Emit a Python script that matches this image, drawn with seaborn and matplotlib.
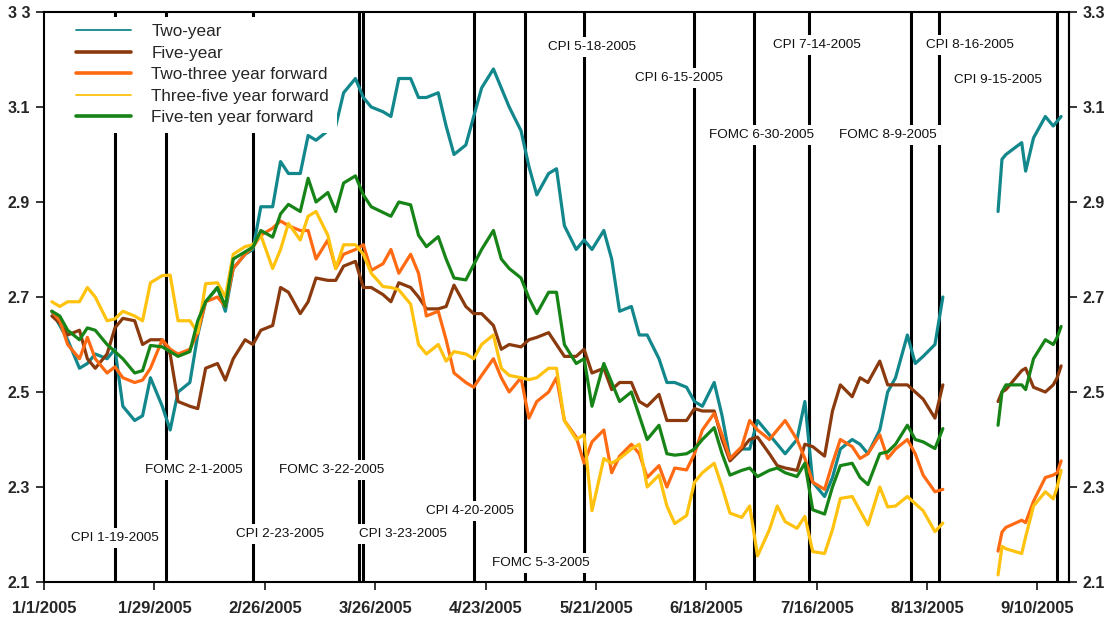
import seaborn as sns
import matplotlib.pyplot as plt
import matplotlib.dates as mdates
import pandas as pd

# observations: Mon/Wed/Fri through mid August, then the September block after the gap
dates_pre = pd.bdate_range("2005-01-03", "2005-08-17", freq="C", weekmask="Mon Wed Fri")
dates_post = pd.to_datetime(["2005-08-31", "2005-09-01", "2005-09-02", "2005-09-06", "2005-09-07",
                             "2005-09-09", "2005-09-12", "2005-09-14", "2005-09-15", "2005-09-16"])

two_year_pre = [2.67, 2.64, 2.61, 2.55, 2.56, 2.58, 2.57, 2.59, 2.47, 2.44, 2.45, 2.53,
                2.47, 2.42, 2.50, 2.52, 2.62, 2.69, 2.72, 2.67, 2.76, 2.79, 2.80, 2.89,
                2.89, 2.985, 2.96, 2.96, 3.04, 3.03, 3.05, 3.06, 3.13, 3.16, 3.12, 3.10,
                3.09, 3.08, 3.16, 3.16, 3.12, 3.12, 3.13, 3.06, 3.00, 3.02, 3.08, 3.14,
                3.18, 3.14, 3.10, 3.05, 2.975, 2.915, 2.96, 2.97, 2.85, 2.80, 2.82, 2.80,
                2.84, 2.78, 2.67, 2.68, 2.62, 2.62, 2.57, 2.52, 2.52, 2.51, 2.48, 2.47,
                2.52, 2.45, 2.36, 2.38, 2.38, 2.44, 2.41, 2.39, 2.37, 2.40, 2.48, 2.31,
                2.28, 2.32, 2.38, 2.40, 2.39, 2.37, 2.42, 2.50, 2.53, 2.62, 2.56, 2.575,
                2.60, 2.70]
two_year_post = [2.88, 2.99, 3.00, 3.025, 2.965, 3.035, 3.08, 3.06, 3.07, 3.08]

five_year_pre = [2.66, 2.645, 2.62, 2.63, 2.57, 2.55, 2.58, 2.635, 2.655, 2.65, 2.60, 2.61,
                 2.61, 2.58, 2.48, 2.47, 2.465, 2.55, 2.56, 2.525, 2.57, 2.61, 2.60, 2.63,
                 2.64, 2.72, 2.71, 2.665, 2.69, 2.74, 2.735, 2.735, 2.765, 2.775, 2.72, 2.72,
                 2.705, 2.69, 2.73, 2.72, 2.70, 2.675, 2.675, 2.68, 2.725, 2.68, 2.665, 2.665,
                 2.64, 2.59, 2.60, 2.595, 2.61, 2.615, 2.625, 2.60, 2.575, 2.575, 2.59, 2.54,
                 2.55, 2.505, 2.52, 2.52, 2.48, 2.47, 2.495, 2.44, 2.44, 2.44, 2.465, 2.46,
                 2.46, 2.40, 2.355, 2.38, 2.40, 2.405, 2.37, 2.345, 2.34, 2.335, 2.39, 2.385,
                 2.365, 2.46, 2.515, 2.49, 2.53, 2.52, 2.565, 2.515, 2.515, 2.515, 2.50, 2.485,
                 2.445, 2.515]
five_year_post = [2.48, 2.50, 2.505, 2.545, 2.55, 2.51, 2.50, 2.515, 2.53, 2.555]

two_three_pre = [2.67, 2.65, 2.60, 2.57, 2.615, 2.57, 2.54, 2.553, 2.53, 2.52, 2.525, 2.55,
                 2.61, 2.59, 2.58, 2.59, 2.625, 2.69, 2.70, 2.68, 2.76, 2.79, 2.805, 2.83,
                 2.845, 2.86, 2.85, 2.84, 2.84, 2.78, 2.82, 2.76, 2.79, 2.80, 2.81, 2.756,
                 2.77, 2.80, 2.75, 2.79, 2.75, 2.66, 2.67, 2.61, 2.54, 2.52, 2.51, 2.535,
                 2.57, 2.53, 2.50, 2.53, 2.445, 2.48, 2.50, 2.53, 2.44, 2.405, 2.35, 2.395,
                 2.42, 2.33, 2.365, 2.39, 2.37, 2.32, 2.345, 2.30, 2.34, 2.336, 2.37, 2.42,
                 2.455, 2.41, 2.36, 2.385, 2.44, 2.42, 2.40, 2.42, 2.44, 2.40, 2.36, 2.31,
                 2.295, 2.35, 2.40, 2.385, 2.36, 2.37, 2.41, 2.36, 2.38, 2.40, 2.37, 2.325,
                 2.29, 2.295]
two_three_post = [2.165, 2.205, 2.215, 2.23, 2.225, 2.27, 2.32, 2.325, 2.33, 2.355]

three_five_pre = [2.69, 2.68, 2.69, 2.69, 2.72, 2.70, 2.65, 2.654, 2.67, 2.66, 2.65, 2.73,
                  2.745, 2.746, 2.65, 2.65, 2.625, 2.728, 2.73, 2.70, 2.79, 2.806, 2.81, 2.83,
                  2.76, 2.80, 2.855, 2.82, 2.87, 2.88, 2.83, 2.76, 2.81, 2.81, 2.79, 2.75,
                  2.722, 2.72, 2.715, 2.685, 2.60, 2.58, 2.60, 2.565, 2.585, 2.58, 2.57, 2.60,
                  2.62, 2.55, 2.535, 2.53, 2.526, 2.53, 2.55, 2.55, 2.44, 2.40, 2.41, 2.25,
                  2.36, 2.35, 2.36, 2.38, 2.39, 2.30, 2.325, 2.26, 2.223, 2.24, 2.31, 2.33,
                  2.35, 2.30, 2.245, 2.236, 2.26, 2.155, 2.21, 2.26, 2.227, 2.213, 2.238, 2.164,
                  2.16, 2.21, 2.276, 2.28, 2.25, 2.22, 2.30, 2.258, 2.26, 2.28, 2.265, 2.25,
                  2.206, 2.224]
three_five_post = [2.115, 2.175, 2.17, 2.16, 2.195, 2.26, 2.29, 2.275, 2.30, 2.335]

five_ten_pre = [2.67, 2.66, 2.63, 2.61, 2.635, 2.63, 2.60, 2.585, 2.57, 2.54, 2.545, 2.598,
                2.595, 2.585, 2.575, 2.585, 2.65, 2.69, 2.72, 2.68, 2.78, 2.795, 2.805, 2.84,
                2.826, 2.875, 2.895, 2.88, 2.95, 2.90, 2.92, 2.88, 2.94, 2.955, 2.915, 2.89,
                2.878, 2.87, 2.90, 2.894, 2.83, 2.806, 2.827, 2.78, 2.74, 2.736, 2.768, 2.80,
                2.84, 2.78, 2.76, 2.74, 2.698, 2.665, 2.71, 2.71, 2.60, 2.56, 2.57, 2.47,
                2.56, 2.52, 2.48, 2.50, 2.45, 2.40, 2.43, 2.37, 2.367, 2.37, 2.38, 2.40,
                2.425, 2.37, 2.325, 2.335, 2.34, 2.322, 2.335, 2.34, 2.33, 2.322, 2.35, 2.252,
                2.243, 2.30, 2.345, 2.35, 2.32, 2.305, 2.37, 2.374, 2.39, 2.43, 2.40, 2.395,
                2.381, 2.423]
five_ten_post = [2.43, 2.50, 2.515, 2.515, 2.505, 2.57, 2.61, 2.60, 2.615, 2.638]

series_names = ["Two-year", "Five-year", "Two-three year forward",
                "Three-five year forward", "Five-ten year forward"]
series_colors = ["#12878c", "#8b3a0e", "#ff6a12", "#ffc20e", "#178417"]

event_dates = ["2005-01-19", "2005-02-01", "2005-02-23", "2005-03-22", "2005-03-23",
               "2005-04-20", "2005-05-03", "2005-05-18", "2005-06-15", "2005-06-30",
               "2005-07-14", "2005-08-09", "2005-08-16", "2005-09-15"]
event_labels = ["CPI 1-19-2005", "FOMC 2-1-2005", "CPI 2-23-2005", "FOMC 3-22-2005",
                "CPI 3-23-2005", "CPI 4-20-2005", "FOMC 5-3-2005", "CPI 5-18-2005",
                "CPI 6-15-2005", "FOMC 6-30-2005", "CPI 7-14-2005", "FOMC 8-9-2005",
                "CPI 8-16-2005", "CPI 9-15-2005"]
# where each label box sits (centre date, height on the y scale)
label_x = ["2005-01-19", "2005-02-08", "2005-03-02", "2005-03-15", "2005-04-02",
           "2005-04-19", "2005-05-07", "2005-05-20", "2005-06-11", "2005-07-02",
           "2005-07-16", "2005-08-03", "2005-08-24", "2005-08-31"]
label_y = [2.193, 2.336, 2.201, 2.336, 2.201, 2.249, 2.140, 3.226, 3.161, 3.041,
           3.231, 3.041, 3.231, 3.157]

tick_dates = ["2005-01-01", "2005-01-29", "2005-02-26", "2005-03-26", "2005-04-23",
              "2005-05-21", "2005-06-18", "2005-07-16", "2005-08-13", "2005-09-10"]
tick_labels = ["1/1/2005", "1/29/2005", "2/26/2005", "3/26/2005", "4/23/2005",
               "5/21/2005", "6/18/2005", "7/16/2005", "8/13/2005", "9/10/2005"]
y_ticks = [2.1, 2.3, 2.5, 2.7, 2.9, 3.1, 3.3]
y_labels_left = ["2.1", "2.3", "2.5", "2.7", "2.9", "3.1", "3 3"]
y_labels_right = ["2.1", "2.3", "2.5", "2.7", "2.9", "3.1", "3.3"]

pre = [two_year_pre, five_year_pre, two_three_pre, three_five_pre, five_ten_pre]
post = [two_year_post, five_year_post, two_three_post, three_five_post, five_ten_post]
frames = []
for name, a, b in zip(series_names, pre, post):
    frames.append(pd.DataFrame({"date": dates_pre, "rate": a, "series": name, "block": 0}))
    frames.append(pd.DataFrame({"date": dates_post, "rate": b, "series": name, "block": 1}))
df = pd.concat(frames, ignore_index=True)

sns.set_style("ticks")
plt.rcParams["font.family"] = ["Liberation Sans", "DejaVu Sans"]

fig = plt.figure(figsize=(11.1, 6.17), dpi=100)
ax = fig.add_axes([44 / 1110, 1 - 582 / 617, 1025 / 1110, 570 / 617])

for d in event_dates:
    ax.axvline(pd.Timestamp(d), color="black", lw=2.2, zorder=1)

sns.lineplot(data=df, x="date", y="rate", hue="series", hue_order=series_names,
             units="block", estimator=None, palette=dict(zip(series_names, series_colors)),
             linewidth=2.3, ax=ax, zorder=3)

for txt, lx, ly in zip(event_labels, label_x, label_y):
    ax.text(mdates.date2num(pd.Timestamp(lx)), ly, txt, ha="center", va="center",
            fontsize=9.7, color="#111111", zorder=6,
            bbox=dict(facecolor="white", edgecolor="none", pad=3))

ax.set_xlim(pd.Timestamp("2005-01-01"), pd.Timestamp("2005-09-18"))
ax.set_ylim(2.1, 3.3)
ax.set_xticks([pd.Timestamp(t) for t in tick_dates])
ax.set_xticklabels(tick_labels)
ax.set_yticks(y_ticks)
ax.set_yticklabels(y_labels_left)
ax.set_xlabel("")
ax.set_ylabel("")

right = ax.secondary_yaxis("right")
right.set_yticks(y_ticks)
right.set_yticklabels(y_labels_right)
right.tick_params(axis="y", direction="out", length=6, width=1.3, labelsize=11.5, pad=4)
for lab in right.get_yticklabels():
    lab.set_fontweight("bold")

ax.tick_params(axis="both", direction="out", length=6, width=1.3, labelsize=11.5, pad=4)
ax.tick_params(axis="x", pad=8, labelsize=12)
for lab in ax.get_xticklabels() + ax.get_yticklabels():
    lab.set_fontweight("bold")
for sp in ax.spines.values():
    sp.set_visible(True)
    sp.set_linewidth(1.5)
    sp.set_color("black")
right.spines["right"].set_linewidth(1.5)

h, l = ax.get_legend_handles_labels()
leg = ax.legend(h, l, loc="upper left", bbox_to_anchor=(0.024, 0.992), frameon=True,
                fancybox=False, framealpha=1, facecolor="white", edgecolor="none",
                fontsize=12.3, handlelength=3.2, handletextpad=1.2, labelspacing=0.38,
                borderpad=0.45, borderaxespad=0)
leg.set_zorder(10)
for line, lw in zip(leg.get_lines(), [1.3, 2.6, 2.6, 1.3, 2.6]):
    line.set_linewidth(lw)

fig.savefig("out.png", dpi=100)
